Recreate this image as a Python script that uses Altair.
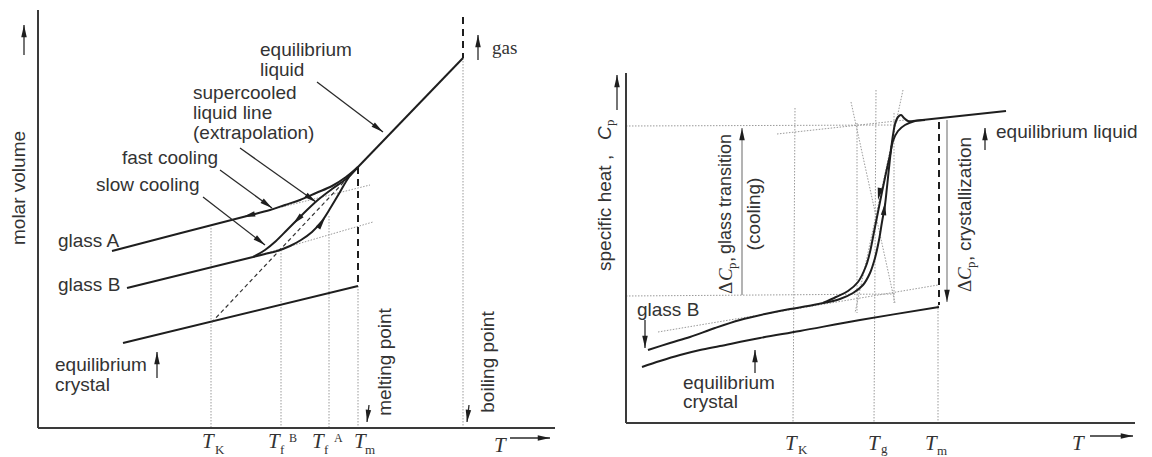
import math
import altair as alt
import pandas as pd

# ============ schematic data (drawing units: T to the right, property downwards-reversed) ============
# ---- left panel: molar volume vs T ----
L_FAST_COOLING = [(358, 167), (346, 177), (332, 186), (316, 193), (300, 200), (285, 205),
                  (270, 210), (247, 216), (180, 233.3), (112, 251)]
L_SLOW_COOLING = [(358, 167), (346, 179), (332, 189), (319, 199), (307, 210), (297, 220),
                  (287, 230), (276, 241), (265, 250), (253, 257)]
L_SLOW_HEATING = [(253, 257), (265, 254), (277, 251), (290, 246), (301, 240), (312, 232),
                  (322, 221), (331, 207), (340, 192), (349, 177), (358, 167)]
# ---- right panel: specific heat vs T ----
R_HEATING = [(823, 303), (840, 299), (853, 293), (863, 285), (870, 273), (875, 258), (879, 240),
             (882, 222), (885, 205), (887, 187), (889, 168), (891, 150), (893, 135), (895, 124),
             (898, 117), (901, 115), (904, 118), (908, 121), (913, 121)]
R_COOLING = [(925, 120), (915, 121), (905, 125), (898, 131), (893, 141), (890, 155), (886, 173),
             (882, 192), (878, 212), (874, 232), (870, 252), (866, 266), (858, 282), (848, 291),
             (836, 297), (823, 303)]
R_GLASS_B = [(648, 350), (670, 343), (690, 337), (715, 328), (740, 320), (765, 314), (790, 309),
             (808, 306), (823, 303)]
R_CRYSTAL = [(642, 367), (660, 361), (680, 355), (700, 350), (720, 346), (760, 338), (800, 331),
             (860, 320), (939, 307)]

# straight solid segments (x, y, x2, y2)
SOLID_SEGMENTS = [
    (463, 58, 358, 167),     # equilibrium liquid (left)
    (127, 288, 253, 257),    # glass B (left)
    (123, 343, 358, 286),    # equilibrium crystal (left)
    (913, 121, 1006, 111),   # equilibrium liquid (right)
]
AXES = [
    (38, 10, 38, 428), (38, 428, 555, 428),
    (626, 73, 626, 423), (626, 423, 1135, 423),
]
DASHED_THICK = [(358, 167, 358, 286), (463, 17, 463, 58), (939, 122, 939, 305)]
DASHED_THIN = [(358, 167, 212, 322)]   # supercooled liquid extrapolation
DOTTED = [
    (211, 228, 211, 428), (281, 250, 281, 428), (329, 216, 329, 428), (358, 286, 358, 428),
    (463, 58, 463, 428), (270, 210, 370, 185), (253, 257, 373, 222),
    (795, 108, 793, 423), (876, 90, 874, 423), (938, 305, 938, 423),
    (626, 126, 895, 125), (777, 134, 905, 120), (626, 296, 895, 294), (658, 332, 938, 285),
    (851, 102, 895, 303), (903, 90, 855, 313), (857, 123, 857, 313), (894, 113, 894, 303),
]
# arrows: start -> tip
ARROWS = [
    (24, 55, 24, 25), (317, 82, 383, 132), (240, 148, 316, 202), (220, 170, 272, 208),
    (203, 197, 265, 245), (478, 60, 478, 35), (157, 378, 157, 352), (369, 405, 367, 422),
    (469, 405, 467, 422), (510, 438, 550, 438),
    (617, 110, 617, 75), (985, 150, 985, 128), (645, 320, 645, 348), (755, 373, 755, 350),
    (1090, 436, 1133, 436),
]
GRAY_ARROWS = [(742, 295, 742, 128), (947, 120, 947, 302)]
# arrowheads placed on curves: tip x, tip y, direction dx, dy
CURVE_HEADS = [(243, 217, -1, 0.26), (293, 224, -1, 1.0), (325, 218, 0.7, -1),
               (878, 200, -0.2, 1), (885, 203, 0.12, -1)]

# text labels
SANS_LABELS = [
    (260, 50, "equilibrium"), (260, 70, "liquid"),
    (193, 93, "supercooled"), (193, 113, "liquid line"), (193, 133, "(extrapolation)"),
    (122, 158, "fast cooling"), (96, 185, "slow cooling"),
    (58, 241, "glass A"), (58, 285, "glass B"),
    (55, 365, "equilibrium"), (55, 385, "crystal"),
    (637, 310, "glass B"), (683, 383, "equilibrium"), (683, 402, "crystal"),
    (996, 132, "equilibrium liquid"),
]
ROT_CENTER_LABELS = [(19, 188, "molar volume"), (385, 362, "melting point"),
                     (488, 362, "boiling point"), (754, 214, "(cooling)")]
ROT_START_LABELS = [(605, 271, "specific heat ,"), (965, 251, "crystallization"),
                    (727, 262, ","), (966, 261, ",")]
ROT_START_SMALLER = [(726, 254, "glass transition")]
ROT_SANS_ITALIC = [(605, 140, "C")]
ROT_SMALL = [(610, 126, "p"), (732, 269, "p"), (971, 268, "p")]
ROT_SERIF = [(726, 294, "Δ"), (965, 292, "Δ")]
ROT_SERIF_ITALIC = [(726, 281, "C"), (965, 280, "C")]
TICK_T = [(202, 448, "T"), (268, 448, "T"), (312, 448, "T"), (354, 448, "T"), (494, 452, "T"),
          (785, 450, "T"), (868, 450, "T"), (925, 450, "T"), (1072, 450, "T")]
TICK_SUB = [(215, 454, "K"), (280, 454, "f"), (324, 454, "f"), (365, 454, "m"),
            (798, 454, "K"), (881, 453, "g"), (937, 455, "m")]
TICK_SUP = [(289, 442, "B"), (334, 442, "A")]
SERIF_LABELS = [(492, 48, "gas")]

# ============ chart construction ============
XS = alt.Scale(domain=[8, 1144], nice=False, zero=False)
YS = alt.Scale(domain=[8, 457], nice=False, zero=False, reverse=True)
INK = "#1e1e1e"
TXT = "#333333"


def xy():
    return dict(x=alt.X("x:Q", scale=XS, axis=None), y=alt.Y("y:Q", scale=YS, axis=None))


def seg_layer(segs, **kw):
    df = pd.DataFrame(segs, columns=["x", "y", "x2", "y2"])
    return alt.Chart(df).mark_rule(**kw).encode(**xy(), x2="x2:Q", y2="y2:Q")


def curve_layer(curves, **kw):
    rows = []
    for cid, pts in enumerate(curves):
        for i, (x, y) in enumerate(pts):
            rows.append({"id": cid, "o": i, "x": x, "y": y})
    return alt.Chart(pd.DataFrame(rows)).mark_line(**kw).encode(
        **xy(), detail="id:N", order="o:Q")


HEAD = "M0,0L0.45,2L-0.45,2Z"


def head_layer(heads, size=150, color=INK):
    rows = [{"x": x, "y": y, "a": math.degrees(math.atan2(dx, -dy)) % 360} for x, y, dx, dy in heads]
    return alt.Chart(pd.DataFrame(rows)).mark_point(
        shape=HEAD, filled=True, size=size, color=color, opacity=1, strokeWidth=0).encode(
        **xy(), angle=alt.Angle("a:Q", scale=None))


def text_layer(items, **kw):
    df = pd.DataFrame(items, columns=["x", "y", "t"])
    return alt.Chart(df).mark_text(**kw).encode(**xy(), text="t:N")


arrow_heads = [(x2, y2, x2 - x1, y2 - y1) for x1, y1, x2, y2 in ARROWS + GRAY_ARROWS]

SANS = "Liberation Sans"
SERIF = "Liberation Serif"

layers = [
    seg_layer(DOTTED, color="#9a9a9a", strokeWidth=1, strokeDash=[1.5, 1.5]),
    seg_layer(AXES, color="#3a3a3a", strokeWidth=2),
    seg_layer(SOLID_SEGMENTS, color=INK, strokeWidth=2),
    seg_layer(DASHED_THICK, color=INK, strokeWidth=2, strokeDash=[7, 5]),
    seg_layer(DASHED_THIN, color="#333333", strokeWidth=1.2, strokeDash=[4, 3]),
    curve_layer([L_FAST_COOLING, L_SLOW_COOLING, L_SLOW_HEATING, R_HEATING, R_COOLING,
                 R_GLASS_B, R_CRYSTAL], color=INK, strokeWidth=2, interpolate="catmull-rom"),
    seg_layer(ARROWS, color="#2a2a2a", strokeWidth=1.3),
    seg_layer(GRAY_ARROWS, color="#9a9a9a", strokeWidth=1.5),
    head_layer(arrow_heads),
    head_layer(CURVE_HEADS),
    text_layer(SANS_LABELS, font=SANS, fontSize=19, align="left", baseline="middle", color=TXT),
    text_layer(ROT_CENTER_LABELS, font=SANS, fontSize=19, align="center", baseline="middle",
               angle=270, color=TXT),
    text_layer(ROT_START_LABELS, font=SANS, fontSize=19, align="left", baseline="middle",
               angle=270, color=TXT),
    text_layer(ROT_START_SMALLER, font=SANS, fontSize=18, align="left", baseline="middle",
               angle=270, color=TXT),
    text_layer(ROT_SANS_ITALIC, font=SANS, fontSize=19, fontStyle="italic", align="left",
               baseline="middle", angle=270, color=TXT),
    text_layer(ROT_SMALL, font=SERIF, fontSize=13, align="left", baseline="middle",
               angle=270, color=TXT),
    text_layer(ROT_SERIF, font=SERIF, fontSize=19, align="left", baseline="middle",
               angle=270, color=TXT),
    text_layer(ROT_SERIF_ITALIC, font=SERIF, fontSize=19, fontStyle="italic", align="left",
               baseline="middle", angle=270, color=TXT),
    text_layer(TICK_T, font=SERIF, fontSize=21, fontStyle="italic", align="left",
               baseline="alphabetic", color=TXT),
    text_layer(TICK_SUB, font=SERIF, fontSize=13, align="left", baseline="alphabetic", color=TXT),
    text_layer(TICK_SUP, font=SERIF, fontSize=12, align="left", baseline="alphabetic", color=TXT),
    text_layer(SERIF_LABELS, font=SERIF, fontSize=19, align="left", baseline="middle", color=TXT),
]

chart = alt.layer(*layers).properties(
    width=1136, height=449, padding=0, autosize="none", background="white"
).configure_view(stroke=None)

chart.save("out.html", embed_options={"renderer": "svg", "actions": False})
